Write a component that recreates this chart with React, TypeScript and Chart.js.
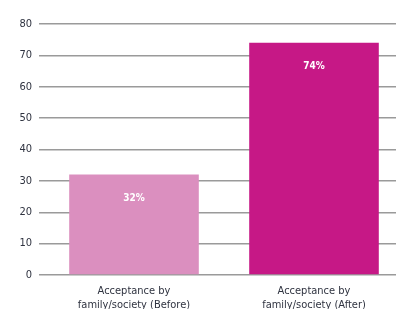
import React, { useEffect, useRef } from "react";
import { Chart, registerables } from "chart.js";

Chart.register(...registerables);

const categories: string[][] = [
  ["Acceptance by", "family/society (Before)"],
  ["Acceptance by", "family/society (After)"],
];
const values: number[] = [32, 74];
const valueLabels: string[] = ["32%", "74%"];
const barColors: string[] = ["#DB8FBF", "#C61886"];
const yTicks = { min: 0, max: 80, step: 10 };

const FONT = "'Liberation Sans Narrow', 'DejaVu Sans Condensed', 'Open Sans', sans-serif";

const valueLabelPlugin = {
  id: "valueLabels",
  afterDatasetsDraw(chart: any) {
    const ctx = chart.ctx;
    const meta = chart.getDatasetMeta(0);
    ctx.save();
    ctx.fillStyle = "#ffffff";
    ctx.font = `bold 10px ${FONT}`;
    ctx.textAlign = "center";
    ctx.textBaseline = "middle";
    meta.data.forEach((bar: any, i: number) => {
      ctx.fillText(valueLabels[i], bar.x, bar.y + 24);
    });
    ctx.restore();
  },
};

export default function App() {
  const ref = useRef<HTMLCanvasElement | null>(null);
  useEffect(() => {
    if (!ref.current) return;
    const chart = new Chart(ref.current, {
      type: "bar",
      data: {
        labels: categories,
        datasets: [
          {
            data: values,
            backgroundColor: barColors,
            borderWidth: 0,
            barPercentage: 0.72,
            categoryPercentage: 1,
          },
        ],
      },
      options: {
        animation: false,
        responsive: false,
        devicePixelRatio: 1,
        layout: { padding: { top: 24, left: 0, right: 0, bottom: 0 } },
        plugins: { legend: { display: false }, tooltip: { enabled: false } },
        scales: {
          x: {
            grid: { display: false },
            border: { display: false },
            ticks: {
              color: "#2f3340",
              font: { family: FONT, size: 11 },
              padding: 2,
              maxRotation: 0,
              autoSkip: false,
            },
            afterFit(scale: any) {
              scale.height = 34;
            },
          },
          y: {
            min: yTicks.min,
            max: yTicks.max,
            grid: {
              color: "#9a9a9a",
              lineWidth: 1.5,
              drawTicks: true,
              tickLength: 5,
              tickColor: "#9a9a9a",
            },
            border: { display: false },
            ticks: {
              stepSize: yTicks.step,
              color: "#2f3340",
              font: { family: FONT, size: 11 },
              padding: 7,
            },
            afterFit(scale: any) {
              scale.width = 44;
            },
          },
        },
      },
      plugins: [valueLabelPlugin],
    });
    return () => chart.destroy();
  }, []);
  return (
    <div
      style={{
        position: "absolute",
        left: 0,
        top: 0,
        width: 396,
        height: 309,
        overflow: "hidden",
        background: "#fff",
      }}
    >
      <canvas ref={ref} width={404} height={309} style={{ display: "block" }} />
    </div>
  );
}
